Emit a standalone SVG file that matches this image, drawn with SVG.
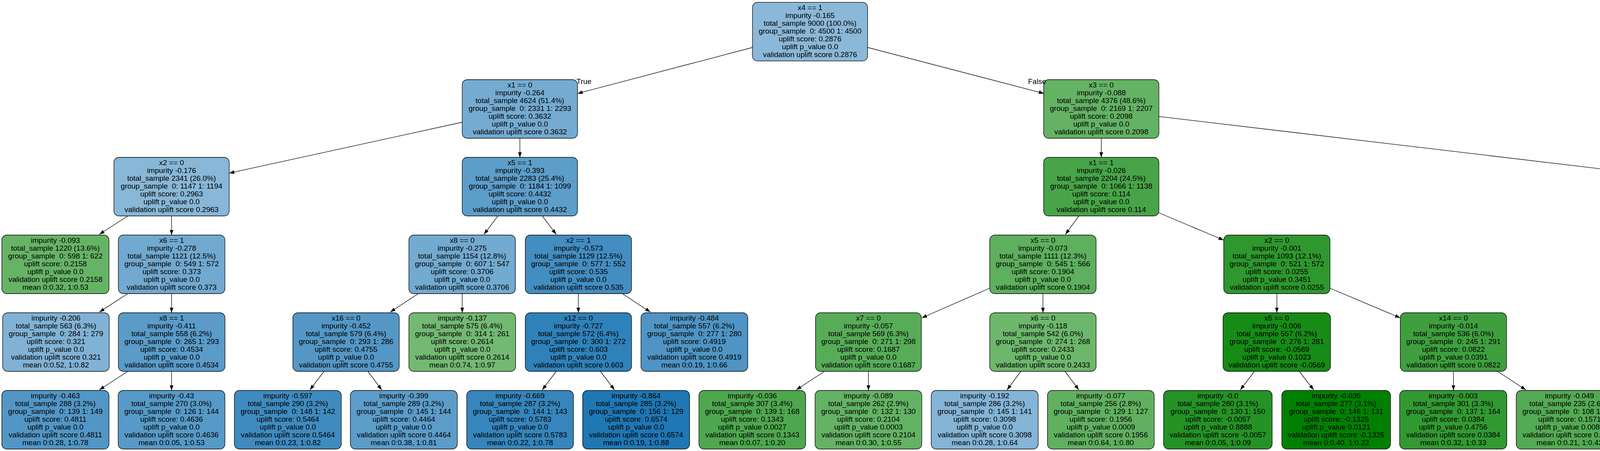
<svg xmlns="http://www.w3.org/2000/svg" width="5349" height="1155" viewBox="0 0 5349 1155">
<style>
.n rect{stroke:#000;stroke-width:1.3}
text{font-family:"Liberation Sans",Arial,Helvetica,sans-serif;font-size:19px;text-anchor:middle;white-space:pre;fill:#000}
.e{stroke:#000;stroke-width:1.3;fill:none;marker-end:url(#ah)}
</style>
<defs>
<marker id="ah" markerUnits="userSpaceOnUse" markerWidth="14" markerHeight="10" viewBox="0 0 14 10" refX="13.3" refY="4.7" orient="auto"><path d="M0,0 L13.3,4.7 L0,9.4 z" fill="#000"/></marker>
</defs>
<rect width="5349" height="1155" fill="#fff"/>
<g id="nodes">
<g id="n0" class="n"><rect x="1926.4" y="5.9" width="294.6" height="150.3" rx="13" fill="#8bb8d8"/><text x="2073.7" y="25.6"><tspan x="2073.7">x4 == 1</tspan><tspan x="2073.7" dy="20">impurity -0.165</tspan><tspan x="2073.7" dy="20">total_sample 9000 (100.0%)</tspan><tspan x="2073.7" dy="20">group_sample  0: 4500 1: 4500</tspan><tspan x="2073.7" dy="20">uplift score: 0.2876</tspan><tspan x="2073.7" dy="20">uplift p_value 0.0</tspan><tspan x="2073.7" dy="20">validation uplift score 0.2876</tspan></text></g>
<g id="n1" class="n"><rect x="1183.3" y="204" width="295.1" height="150" rx="13" fill="#75abd1"/><text x="1330.9" y="223.7"><tspan x="1330.9">x1 == 0</tspan><tspan x="1330.9" dy="20">impurity -0.264</tspan><tspan x="1330.9" dy="20">total_sample 4624 (51.4%)</tspan><tspan x="1330.9" dy="20">group_sample  0: 2331 1: 2293</tspan><tspan x="1330.9" dy="20">uplift score: 0.3632</tspan><tspan x="1330.9" dy="20">uplift p_value 0.0</tspan><tspan x="1330.9" dy="20">validation uplift score 0.3632</tspan></text></g>
<g id="n2" class="n"><rect x="2671.7" y="204" width="295.1" height="150" rx="13" fill="#64b264"/><text x="2819.3" y="223.7"><tspan x="2819.3">x3 == 0</tspan><tspan x="2819.3" dy="20">impurity -0.088</tspan><tspan x="2819.3" dy="20">total_sample 4376 (48.6%)</tspan><tspan x="2819.3" dy="20">group_sample  0: 2169 1: 2207</tspan><tspan x="2819.3" dy="20">uplift score: 0.2098</tspan><tspan x="2819.3" dy="20">uplift p_value 0.0</tspan><tspan x="2819.3" dy="20">validation uplift score 0.2098</tspan></text></g>
<g id="n3" class="n"><rect x="291.6" y="403" width="295.1" height="150" rx="13" fill="#88b7d7"/><text x="439.2" y="422.7"><tspan x="439.2">x2 == 0</tspan><tspan x="439.2" dy="20">impurity -0.176</tspan><tspan x="439.2" dy="20">total_sample 2341 (26.0%)</tspan><tspan x="439.2" dy="20">group_sample  0: 1147 1: 1194</tspan><tspan x="439.2" dy="20">uplift score: 0.2963</tspan><tspan x="439.2" dy="20">uplift p_value 0.0</tspan><tspan x="439.2" dy="20">validation uplift score 0.2963</tspan></text></g>
<g id="n4" class="n"><rect x="1183.3" y="403" width="295.1" height="150" rx="13" fill="#5d9dc9"/><text x="1330.9" y="422.7"><tspan x="1330.9">x5 == 1</tspan><tspan x="1330.9" dy="20">impurity -0.393</tspan><tspan x="1330.9" dy="20">total_sample 2283 (25.4%)</tspan><tspan x="1330.9" dy="20">group_sample  0: 1184 1: 1099</tspan><tspan x="1330.9" dy="20">uplift score: 0.4432</tspan><tspan x="1330.9" dy="20">uplift p_value 0.0</tspan><tspan x="1330.9" dy="20">validation uplift score 0.4432</tspan></text></g>
<g id="n5" class="n"><rect x="2671.7" y="403" width="295.1" height="150" rx="13" fill="#48a448"/><text x="2819.3" y="422.7"><tspan x="2819.3">x1 == 1</tspan><tspan x="2819.3" dy="20">impurity -0.026</tspan><tspan x="2819.3" dy="20">total_sample 2204 (24.5%)</tspan><tspan x="2819.3" dy="20">group_sample  0: 1066 1: 1138</tspan><tspan x="2819.3" dy="20">uplift score: 0.114</tspan><tspan x="2819.3" dy="20">uplift p_value 0.0</tspan><tspan x="2819.3" dy="20">validation uplift score 0.114</tspan></text></g>
<g id="n6" class="n"><rect x="4316" y="403" width="294.3" height="150" rx="13" fill="#85b5d6"/><text x="4463.2" y="422.7"><tspan x="4463.2">x2 == 1</tspan><tspan x="4463.2" dy="20">impurity -0.188</tspan><tspan x="4463.2" dy="20">total_sample 2172 (24.1%)</tspan><tspan x="4463.2" dy="20">group_sample  0: 1103 1: 1069</tspan><tspan x="4463.2" dy="20">uplift score: 0.3063</tspan><tspan x="4463.2" dy="20">uplift p_value 0.0</tspan><tspan x="4463.2" dy="20">validation uplift score 0.3063</tspan></text></g>
<g id="n7" class="n"><rect x="4.6" y="602" width="274.4" height="150" rx="13" fill="#66b366"/><text x="141.8" y="621.7"><tspan x="141.8">impurity -0.093</tspan><tspan x="141.8" dy="20">total_sample 1220 (13.6%)</tspan><tspan x="141.8" dy="20">group_sample  0: 598 1: 622</tspan><tspan x="141.8" dy="20">uplift score: 0.2158</tspan><tspan x="141.8" dy="20">uplift p_value 0.0</tspan><tspan x="141.8" dy="20">validation uplift score 0.2158</tspan><tspan x="141.8" dy="20">mean 0:0.32, 1:0.53</tspan></text></g>
<g id="n8" class="n"><rect x="303" y="602" width="272.8" height="150" rx="13" fill="#72a9d0"/><text x="439.4" y="621.7"><tspan x="439.4">x6 == 1</tspan><tspan x="439.4" dy="20">impurity -0.278</tspan><tspan x="439.4" dy="20">total_sample 1121 (12.5%)</tspan><tspan x="439.4" dy="20">group_sample  0: 549 1: 572</tspan><tspan x="439.4" dy="20">uplift score: 0.373</tspan><tspan x="439.4" dy="20">uplift p_value 0.0</tspan><tspan x="439.4" dy="20">validation uplift score 0.373</tspan></text></g>
<g id="n9" class="n"><rect x="1046.7" y="602" width="272.7" height="150" rx="13" fill="#72aad0"/><text x="1183.1" y="621.7"><tspan x="1183.1">x8 == 0</tspan><tspan x="1183.1" dy="20">impurity -0.275</tspan><tspan x="1183.1" dy="20">total_sample 1154 (12.8%)</tspan><tspan x="1183.1" dy="20">group_sample  0: 607 1: 547</tspan><tspan x="1183.1" dy="20">uplift score: 0.3706</tspan><tspan x="1183.1" dy="20">uplift p_value 0.0</tspan><tspan x="1183.1" dy="20">validation uplift score 0.3706</tspan></text></g>
<g id="n10" class="n"><rect x="1344.7" y="602" width="272.1" height="150" rx="13" fill="#438dc0"/><text x="1480.8" y="621.7"><tspan x="1480.8">x2 == 1</tspan><tspan x="1480.8" dy="20">impurity -0.573</tspan><tspan x="1480.8" dy="20">total_sample 1129 (12.5%)</tspan><tspan x="1480.8" dy="20">group_sample  0: 577 1: 552</tspan><tspan x="1480.8" dy="20">uplift score: 0.535</tspan><tspan x="1480.8" dy="20">uplift p_value 0.0</tspan><tspan x="1480.8" dy="20">validation uplift score 0.535</tspan></text></g>
<g id="n11" class="n"><rect x="2533.7" y="602" width="272.3" height="150" rx="13" fill="#5eaf5e"/><text x="2669.9" y="621.7"><tspan x="2669.9">x5 == 0</tspan><tspan x="2669.9" dy="20">impurity -0.073</tspan><tspan x="2669.9" dy="20">total_sample 1111 (12.3%)</tspan><tspan x="2669.9" dy="20">group_sample  0: 545 1: 566</tspan><tspan x="2669.9" dy="20">uplift score: 0.1904</tspan><tspan x="2669.9" dy="20">uplift p_value 0.0</tspan><tspan x="2669.9" dy="20">validation uplift score 0.1904</tspan></text></g>
<g id="n12" class="n"><rect x="3132.7" y="602" width="272.1" height="150" rx="13" fill="#2e972e"/><text x="3268.8" y="621.7"><tspan x="3268.8">x2 == 0</tspan><tspan x="3268.8" dy="20">impurity -0.001</tspan><tspan x="3268.8" dy="20">total_sample 1093 (12.1%)</tspan><tspan x="3268.8" dy="20">group_sample  0: 521 1: 572</tspan><tspan x="3268.8" dy="20">uplift score: 0.0255</tspan><tspan x="3268.8" dy="20">uplift p_value 0.3451</tspan><tspan x="3268.8" dy="20">validation uplift score 0.0255</tspan></text></g>
<g id="n13" class="n"><rect x="4327.5" y="602" width="271.9" height="150" rx="13" fill="#6ba5ce"/><text x="4463.5" y="621.7"><tspan x="4463.5">x11 == 0</tspan><tspan x="4463.5" dy="20">impurity -0.312</tspan><tspan x="4463.5" dy="20">total_sample 1094 (12.2%)</tspan><tspan x="4463.5" dy="20">group_sample  0: 549 1: 545</tspan><tspan x="4463.5" dy="20">uplift score: 0.3953</tspan><tspan x="4463.5" dy="20">uplift p_value 0.0</tspan><tspan x="4463.5" dy="20">validation uplift score 0.3953</tspan></text></g>
<g id="n14" class="n"><rect x="4623.5" y="602" width="273.8" height="150" rx="13" fill="#6ab56a"/><text x="4760.4" y="621.7"><tspan x="4760.4">impurity -0.106</tspan><tspan x="4760.4" dy="20">total_sample 1078 (12.0%)</tspan><tspan x="4760.4" dy="20">group_sample  0: 554 1: 524</tspan><tspan x="4760.4" dy="20">uplift score: 0.2298</tspan><tspan x="4760.4" dy="20">uplift p_value 0.0</tspan><tspan x="4760.4" dy="20">validation uplift score 0.2298</tspan><tspan x="4760.4" dy="20">mean 0:0.32, 1:0.54</tspan></text></g>
<g id="n15" class="n"><rect x="6.9" y="801" width="272.7" height="150" rx="13" fill="#81b2d5"/><text x="143.3" y="820.7"><tspan x="143.3">impurity -0.206</tspan><tspan x="143.3" dy="20">total_sample 563 (6.3%)</tspan><tspan x="143.3" dy="20">group_sample  0: 284 1: 279</tspan><tspan x="143.3" dy="20">uplift score: 0.321</tspan><tspan x="143.3" dy="20">uplift p_value 0.0</tspan><tspan x="143.3" dy="20">validation uplift score 0.321</tspan><tspan x="143.3" dy="20">mean 0:0.52, 1:0.82</tspan></text></g>
<g id="n16" class="n"><rect x="303" y="801" width="273" height="150" rx="13" fill="#5a9bc8"/><text x="439.5" y="820.7"><tspan x="439.5">x8 == 1</tspan><tspan x="439.5" dy="20">impurity -0.411</tspan><tspan x="439.5" dy="20">total_sample 558 (6.2%)</tspan><tspan x="439.5" dy="20">group_sample  0: 265 1: 293</tspan><tspan x="439.5" dy="20">uplift score: 0.4534</tspan><tspan x="439.5" dy="20">uplift p_value 0.0</tspan><tspan x="439.5" dy="20">validation uplift score 0.4534</tspan></text></g>
<g id="n17" class="n"><rect x="749.7" y="801" width="272.3" height="150" rx="13" fill="#5497c6"/><text x="885.9" y="820.7"><tspan x="885.9">x16 == 0</tspan><tspan x="885.9" dy="20">impurity -0.452</tspan><tspan x="885.9" dy="20">total_sample 579 (6.4%)</tspan><tspan x="885.9" dy="20">group_sample  0: 293 1: 286</tspan><tspan x="885.9" dy="20">uplift score: 0.4755</tspan><tspan x="885.9" dy="20">uplift p_value 0.0</tspan><tspan x="885.9" dy="20">validation uplift score 0.4755</tspan></text></g>
<g id="n18" class="n"><rect x="1046.7" y="801" width="273.3" height="150" rx="13" fill="#73b973"/><text x="1183.4" y="820.7"><tspan x="1183.4">impurity -0.137</tspan><tspan x="1183.4" dy="20">total_sample 575 (6.4%)</tspan><tspan x="1183.4" dy="20">group_sample  0: 314 1: 261</tspan><tspan x="1183.4" dy="20">uplift score: 0.2614</tspan><tspan x="1183.4" dy="20">uplift p_value 0.0</tspan><tspan x="1183.4" dy="20">validation uplift score 0.2614</tspan><tspan x="1183.4" dy="20">mean 0:0.74, 1:0.97</tspan></text></g>
<g id="n19" class="n"><rect x="1344.7" y="801" width="272.1" height="150" rx="13" fill="#2f81b9"/><text x="1480.8" y="820.7"><tspan x="1480.8">x12 == 0</tspan><tspan x="1480.8" dy="20">impurity -0.727</tspan><tspan x="1480.8" dy="20">total_sample 572 (6.4%)</tspan><tspan x="1480.8" dy="20">group_sample  0: 300 1: 272</tspan><tspan x="1480.8" dy="20">uplift score: 0.603</tspan><tspan x="1480.8" dy="20">uplift p_value 0.0</tspan><tspan x="1480.8" dy="20">validation uplift score 0.603</tspan></text></g>
<g id="n20" class="n"><rect x="1640.9" y="801" width="273.4" height="150" rx="13" fill="#4f94c4"/><text x="1777.6" y="820.7"><tspan x="1777.6">impurity -0.484</tspan><tspan x="1777.6" dy="20">total_sample 557 (6.2%)</tspan><tspan x="1777.6" dy="20">group_sample  0: 277 1: 280</tspan><tspan x="1777.6" dy="20">uplift score: 0.4919</tspan><tspan x="1777.6" dy="20">uplift p_value 0.0</tspan><tspan x="1777.6" dy="20">validation uplift score 0.4919</tspan><tspan x="1777.6" dy="20">mean 0:0.19, 1:0.66</tspan></text></g>
<g id="n21" class="n"><rect x="2087.7" y="801" width="271" height="150" rx="13" fill="#58ac58"/><text x="2223.2" y="820.7"><tspan x="2223.2">x7 == 0</tspan><tspan x="2223.2" dy="20">impurity -0.057</tspan><tspan x="2223.2" dy="20">total_sample 569 (6.3%)</tspan><tspan x="2223.2" dy="20">group_sample  0: 271 1: 298</tspan><tspan x="2223.2" dy="20">uplift score: 0.1687</tspan><tspan x="2223.2" dy="20">uplift p_value 0.0</tspan><tspan x="2223.2" dy="20">validation uplift score 0.1687</tspan></text></g>
<g id="n22" class="n"><rect x="2533.7" y="801" width="272.3" height="150" rx="13" fill="#6db76d"/><text x="2669.9" y="820.7"><tspan x="2669.9">x6 == 0</tspan><tspan x="2669.9" dy="20">impurity -0.118</tspan><tspan x="2669.9" dy="20">total_sample 542 (6.0%)</tspan><tspan x="2669.9" dy="20">group_sample  0: 274 1: 268</tspan><tspan x="2669.9" dy="20">uplift score: 0.2433</tspan><tspan x="2669.9" dy="20">uplift p_value 0.0</tspan><tspan x="2669.9" dy="20">validation uplift score 0.2433</tspan></text></g>
<g id="n23" class="n"><rect x="3131" y="801" width="275" height="150" rx="13" fill="#168b16"/><text x="3268.5" y="820.7"><tspan x="3268.5">x5 == 0</tspan><tspan x="3268.5" dy="20">impurity -0.006</tspan><tspan x="3268.5" dy="20">total_sample 557 (6.2%)</tspan><tspan x="3268.5" dy="20">group_sample  0: 276 1: 281</tspan><tspan x="3268.5" dy="20">uplift score: -0.0569</tspan><tspan x="3268.5" dy="20">uplift p_value 0.1023</tspan><tspan x="3268.5" dy="20">validation uplift score -0.0569</tspan></text></g>
<g id="n24" class="n"><rect x="3584.7" y="801" width="272.1" height="150" rx="13" fill="#3f9f3f"/><text x="3720.8" y="820.7"><tspan x="3720.8">x14 == 0</tspan><tspan x="3720.8" dy="20">impurity -0.014</tspan><tspan x="3720.8" dy="20">total_sample 536 (6.0%)</tspan><tspan x="3720.8" dy="20">group_sample  0: 245 1: 291</tspan><tspan x="3720.8" dy="20">uplift score: 0.0822</tspan><tspan x="3720.8" dy="20">uplift p_value 0.0391</tspan><tspan x="3720.8" dy="20">validation uplift score 0.0822</tspan></text></g>
<g id="n25" class="n"><rect x="4327.5" y="801" width="271.9" height="150" rx="13" fill="#70a8cf"/><text x="4463.5" y="820.7"><tspan x="4463.5">x1 == 0</tspan><tspan x="4463.5" dy="20">impurity -0.288</tspan><tspan x="4463.5" dy="20">total_sample 563 (6.3%)</tspan><tspan x="4463.5" dy="20">group_sample  0: 292 1: 271</tspan><tspan x="4463.5" dy="20">uplift score: 0.3796</tspan><tspan x="4463.5" dy="20">uplift p_value 0.0</tspan><tspan x="4463.5" dy="20">validation uplift score 0.3796</tspan></text></g>
<g id="n26" class="n"><rect x="4773.9" y="801" width="272.1" height="150" rx="13" fill="#5f9eca"/><text x="4910" y="820.7"><tspan x="4910">x8 == 0</tspan><tspan x="4910" dy="20">impurity -0.381</tspan><tspan x="4910" dy="20">total_sample 531 (5.9%)</tspan><tspan x="4910" dy="20">group_sample  0: 257 1: 274</tspan><tspan x="4910" dy="20">uplift score: 0.4363</tspan><tspan x="4910" dy="20">uplift p_value 0.0</tspan><tspan x="4910" dy="20">validation uplift score 0.4363</tspan></text></g>
<g id="n27" class="n"><rect x="4.6" y="1000" width="274.4" height="150" rx="13" fill="#5296c5"/><text x="141.8" y="1019.7"><tspan x="141.8">impurity -0.463</tspan><tspan x="141.8" dy="20">total_sample 288 (3.2%)</tspan><tspan x="141.8" dy="20">group_sample  0: 139 1: 149</tspan><tspan x="141.8" dy="20">uplift score: 0.4811</tspan><tspan x="141.8" dy="20">uplift p_value 0.0</tspan><tspan x="141.8" dy="20">validation uplift score 0.4811</tspan><tspan x="141.8" dy="20">mean 0:0.28, 1:0.78</tspan></text></g>
<g id="n28" class="n"><rect x="302.5" y="1000" width="273.3" height="150" rx="13" fill="#5799c7"/><text x="439.2" y="1019.7"><tspan x="439.2">impurity -0.43</tspan><tspan x="439.2" dy="20">total_sample 270 (3.0%)</tspan><tspan x="439.2" dy="20">group_sample  0: 126 1: 144</tspan><tspan x="439.2" dy="20">uplift score: 0.4636</tspan><tspan x="439.2" dy="20">uplift p_value 0.0</tspan><tspan x="439.2" dy="20">validation uplift score 0.4636</tspan><tspan x="439.2" dy="20">mean 0:0.05, 1:0.53</tspan></text></g>
<g id="n29" class="n"><rect x="600" y="1000" width="273.7" height="150" rx="13" fill="#3f8bbf"/><text x="736.9" y="1019.7"><tspan x="736.9">impurity -0.597</tspan><tspan x="736.9" dy="20">total_sample 290 (3.2%)</tspan><tspan x="736.9" dy="20">group_sample  0: 148 1: 142</tspan><tspan x="736.9" dy="20">uplift score: 0.5464</tspan><tspan x="736.9" dy="20">uplift p_value 0.0</tspan><tspan x="736.9" dy="20">validation uplift score 0.5464</tspan><tspan x="736.9" dy="20">mean 0:0.23, 1:0.82</tspan></text></g>
<g id="n30" class="n"><rect x="896.9" y="1000" width="273.8" height="150" rx="13" fill="#5c9cc9"/><text x="1033.8" y="1019.7"><tspan x="1033.8">impurity -0.399</tspan><tspan x="1033.8" dy="20">total_sample 289 (3.2%)</tspan><tspan x="1033.8" dy="20">group_sample  0: 145 1: 144</tspan><tspan x="1033.8" dy="20">uplift score: 0.4464</tspan><tspan x="1033.8" dy="20">uplift p_value 0.0</tspan><tspan x="1033.8" dy="20">validation uplift score 0.4464</tspan><tspan x="1033.8" dy="20">mean 0:0.38, 1:0.81</tspan></text></g>
<g id="n31" class="n"><rect x="1194.8" y="1000" width="273.2" height="150" rx="13" fill="#3685bc"/><text x="1331.4" y="1019.7"><tspan x="1331.4">impurity -0.669</tspan><tspan x="1331.4" dy="20">total_sample 287 (3.2%)</tspan><tspan x="1331.4" dy="20">group_sample  0: 144 1: 143</tspan><tspan x="1331.4" dy="20">uplift score: 0.5783</tspan><tspan x="1331.4" dy="20">uplift p_value 0.0</tspan><tspan x="1331.4" dy="20">validation uplift score 0.5783</tspan><tspan x="1331.4" dy="20">mean 0:0.22, 1:0.78</tspan></text></g>
<g id="n32" class="n"><rect x="1491.6" y="1000" width="273.8" height="150" rx="13" fill="#1f77b4"/><text x="1628.5" y="1019.7"><tspan x="1628.5">impurity -0.864</tspan><tspan x="1628.5" dy="20">total_sample 285 (3.2%)</tspan><tspan x="1628.5" dy="20">group_sample  0: 156 1: 129</tspan><tspan x="1628.5" dy="20">uplift score: 0.6574</tspan><tspan x="1628.5" dy="20">uplift p_value 0.0</tspan><tspan x="1628.5" dy="20">validation uplift score 0.6574</tspan><tspan x="1628.5" dy="20">mean 0:0.19, 1:0.88</tspan></text></g>
<g id="n33" class="n"><rect x="1789.2" y="1000" width="273.2" height="150" rx="13" fill="#4ea74e"/><text x="1925.8" y="1019.7"><tspan x="1925.8">impurity -0.036</tspan><tspan x="1925.8" dy="20">total_sample 307 (3.4%)</tspan><tspan x="1925.8" dy="20">group_sample  0: 139 1: 168</tspan><tspan x="1925.8" dy="20">uplift score: 0.1343</tspan><tspan x="1925.8" dy="20">uplift p_value 0.0027</tspan><tspan x="1925.8" dy="20">validation uplift score 0.1343</tspan><tspan x="1925.8" dy="20">mean 0:0.07, 1:0.20</tspan></text></g>
<g id="n34" class="n"><rect x="2086.5" y="1000" width="273.3" height="150" rx="13" fill="#64b264"/><text x="2223.2" y="1019.7"><tspan x="2223.2">impurity -0.089</tspan><tspan x="2223.2" dy="20">total_sample 262 (2.9%)</tspan><tspan x="2223.2" dy="20">group_sample  0: 132 1: 130</tspan><tspan x="2223.2" dy="20">uplift score: 0.2104</tspan><tspan x="2223.2" dy="20">uplift p_value 0.0003</tspan><tspan x="2223.2" dy="20">validation uplift score 0.2104</tspan><tspan x="2223.2" dy="20">mean 0:0.30, 1:0.55</tspan></text></g>
<g id="n35" class="n"><rect x="2383.9" y="1000" width="273.8" height="150" rx="13" fill="#84b4d6"/><text x="2520.8" y="1019.7"><tspan x="2520.8">impurity -0.192</tspan><tspan x="2520.8" dy="20">total_sample 286 (3.2%)</tspan><tspan x="2520.8" dy="20">group_sample  0: 145 1: 141</tspan><tspan x="2520.8" dy="20">uplift score: 0.3098</tspan><tspan x="2520.8" dy="20">uplift p_value 0.0</tspan><tspan x="2520.8" dy="20">validation uplift score 0.3098</tspan><tspan x="2520.8" dy="20">mean 0:0.28, 1:0.64</tspan></text></g>
<g id="n36" class="n"><rect x="2681.5" y="1000" width="273.2" height="150" rx="13" fill="#60b060"/><text x="2818.1" y="1019.7"><tspan x="2818.1">impurity -0.077</tspan><tspan x="2818.1" dy="20">total_sample 256 (2.8%)</tspan><tspan x="2818.1" dy="20">group_sample  0: 129 1: 127</tspan><tspan x="2818.1" dy="20">uplift score: 0.1956</tspan><tspan x="2818.1" dy="20">uplift p_value 0.0009</tspan><tspan x="2818.1" dy="20">validation uplift score 0.1956</tspan><tspan x="2818.1" dy="20">mean 0:0.64, 1:0.80</tspan></text></g>
<g id="n37" class="n"><rect x="2978.8" y="1000" width="277.9" height="150" rx="13" fill="#259225"/><text x="3117.8" y="1019.7"><tspan x="3117.8">impurity -0.0</tspan><tspan x="3117.8" dy="20">total_sample 280 (3.1%)</tspan><tspan x="3117.8" dy="20">group_sample  0: 130 1: 150</tspan><tspan x="3117.8" dy="20">uplift score: -0.0057</tspan><tspan x="3117.8" dy="20">uplift p_value 0.8888</tspan><tspan x="3117.8" dy="20">validation uplift score -0.0057</tspan><tspan x="3117.8" dy="20">mean 0:0.05, 1:0.09</tspan></text></g>
<g id="n38" class="n"><rect x="3281.4" y="1000" width="278.4" height="150" rx="13" fill="#008000"/><text x="3420.6" y="1019.7"><tspan x="3420.6">impurity -0.035</tspan><tspan x="3420.6" dy="20">total_sample 277 (3.1%)</tspan><tspan x="3420.6" dy="20">group_sample  0: 146 1: 131</tspan><tspan x="3420.6" dy="20">uplift score: -0.1325</tspan><tspan x="3420.6" dy="20">uplift p_value 0.0121</tspan><tspan x="3420.6" dy="20">validation uplift score -0.1325</tspan><tspan x="3420.6" dy="20">mean 0:0.40, 1:0.22</tspan></text></g>
<g id="n39" class="n"><rect x="3583" y="1000" width="274.4" height="150" rx="13" fill="#329932"/><text x="3720.2" y="1019.7"><tspan x="3720.2">impurity -0.003</tspan><tspan x="3720.2" dy="20">total_sample 301 (3.3%)</tspan><tspan x="3720.2" dy="20">group_sample  0: 137 1: 164</tspan><tspan x="3720.2" dy="20">uplift score: 0.0384</tspan><tspan x="3720.2" dy="20">uplift p_value 0.4756</tspan><tspan x="3720.2" dy="20">validation uplift score 0.0384</tspan><tspan x="3720.2" dy="20">mean 0:0.32, 1:0.33</tspan></text></g>
<g id="n40" class="n"><rect x="3881.5" y="1000" width="273.2" height="150" rx="13" fill="#54aa54"/><text x="4018.1" y="1019.7"><tspan x="4018.1">impurity -0.049</tspan><tspan x="4018.1" dy="20">total_sample 235 (2.6%)</tspan><tspan x="4018.1" dy="20">group_sample  0: 108 1: 127</tspan><tspan x="4018.1" dy="20">uplift score: 0.1571</tspan><tspan x="4018.1" dy="20">uplift p_value 0.0086</tspan><tspan x="4018.1" dy="20">validation uplift score 0.1571</tspan><tspan x="4018.1" dy="20">mean 0:0.21, 1:0.43</tspan></text></g>
<g id="n41" class="n"><rect x="4178.8" y="1000" width="273.9" height="150" rx="13" fill="#80b2d4"/><text x="4315.8" y="1019.7"><tspan x="4315.8">impurity -0.211</tspan><tspan x="4315.8" dy="20">total_sample 289 (3.2%)</tspan><tspan x="4315.8" dy="20">group_sample  0: 144 1: 145</tspan><tspan x="4315.8" dy="20">uplift score: 0.3249</tspan><tspan x="4315.8" dy="20">uplift p_value 0.0</tspan><tspan x="4315.8" dy="20">validation uplift score 0.3249</tspan><tspan x="4315.8" dy="20">mean 0:0.35, 1:0.64</tspan></text></g>
<g id="n42" class="n"><rect x="4476" y="1000" width="273.2" height="150" rx="13" fill="#609fca"/><text x="4612.6" y="1019.7"><tspan x="4612.6">impurity -0.373</tspan><tspan x="4612.6" dy="20">total_sample 274 (3.0%)</tspan><tspan x="4612.6" dy="20">group_sample  0: 148 1: 126</tspan><tspan x="4612.6" dy="20">uplift score: 0.4321</tspan><tspan x="4612.6" dy="20">uplift p_value 0.0</tspan><tspan x="4612.6" dy="20">validation uplift score 0.4321</tspan><tspan x="4612.6" dy="20">mean 0:0.35, 1:0.83</tspan></text></g>
<g id="n43" class="n"><rect x="4773.9" y="1000" width="272.1" height="150" rx="13" fill="#4d93c3"/><text x="4910" y="1019.7"><tspan x="4910">impurity -0.502</tspan><tspan x="4910" dy="20">total_sample 278 (3.1%)</tspan><tspan x="4910" dy="20">group_sample  0: 138 1: 140</tspan><tspan x="4910" dy="20">uplift score: 0.501</tspan><tspan x="4910" dy="20">uplift p_value 0.0</tspan><tspan x="4910" dy="20">validation uplift score 0.501</tspan><tspan x="4910" dy="20">mean 0:0.12, 1:0.66</tspan></text></g>
<g id="n44" class="n"><rect x="5070.7" y="1000" width="273.8" height="150" rx="13" fill="#6fa8cf"/><text x="5207.6" y="1019.7"><tspan x="5207.6">impurity -0.29</tspan><tspan x="5207.6" dy="20">total_sample 253 (2.8%)</tspan><tspan x="5207.6" dy="20">group_sample  0: 119 1: 134</tspan><tspan x="5207.6" dy="20">uplift score: 0.3811</tspan><tspan x="5207.6" dy="20">uplift p_value 0.0</tspan><tspan x="5207.6" dy="20">validation uplift score 0.3811</tspan><tspan x="5207.6" dy="20">mean 0:0.53, 1:0.86</tspan></text></g>
</g>
<g id="edges">
<path class="e" d="M1926.4,121.5 L1478.4,239.4"/>
<path class="e" d="M2221,121.5 L2672.7,239.4"/>
<path class="e" d="M1183.3,313 L586.7,443.4"/>
<path class="e" d="M1330.9,354 L1330.9,403"/>
<path class="e" d="M2819.3,354 L2819.3,403"/>
<path class="e" d="M2966.8,298.3 L4316,458.2"/>
<path class="e" d="M327.2,553 L254.3,600.3"/>
<path class="e" d="M439.2,553 L439.2,602"/>
<path class="e" d="M1274.6,553 L1239,600.3"/>
<path class="e" d="M1388.3,553 L1423.9,600.3"/>
<path class="e" d="M2761.8,553 L2727.4,600.3"/>
<path class="e" d="M2966.8,545 L3132.7,615"/>
<path class="e" d="M4463.4,553 L4463.4,602"/>
<path class="e" d="M4576.4,553 L4648.2,600.3"/>
<path class="e" d="M327.2,752 L254.3,799.2"/>
<path class="e" d="M439.2,752 L439.2,801"/>
<path class="e" d="M1070.8,752 L999,799.2"/>
<path class="e" d="M1183.3,752 L1183.3,801"/>
<path class="e" d="M1480.5,752 L1480.5,801"/>
<path class="e" d="M1593.2,752 L1665,799.2"/>
<path class="e" d="M2533.7,738 L2359.8,814"/>
<path class="e" d="M2669.9,752 L2669.9,801"/>
<path class="e" d="M3268.7,752 L3268.7,801"/>
<path class="e" d="M3404.8,738 L3584.7,814"/>
<path class="e" d="M4463.4,752 L4463.4,801"/>
<path class="e" d="M4599.4,746 L4773.3,820"/>
<path class="e" d="M327.2,951 L254.3,998.5"/>
<path class="e" d="M439.2,951 L439.2,1000"/>
<path class="e" d="M829.5,951 L793.3,998.5"/>
<path class="e" d="M941.7,951 L977.3,998.5"/>
<path class="e" d="M1423.9,951 L1388.3,998.5"/>
<path class="e" d="M1537,951 L1573,998.5"/>
<path class="e" d="M2110.7,951 L2038.3,998.5"/>
<path class="e" d="M2223.2,951 L2223.2,1000"/>
<path class="e" d="M2613.5,951 L2577.9,998.5"/>
<path class="e" d="M2726.3,951 L2761.8,998.5"/>
<path class="e" d="M3211.3,951 L3175.2,998.5"/>
<path class="e" d="M3326.1,951 L3362.9,998.5"/>
<path class="e" d="M3720.8,951 L3720.8,1000"/>
<path class="e" d="M3833.8,951 L3906.2,998.5"/>
<path class="e" d="M4407.9,951 L4372.3,998.5"/>
<path class="e" d="M4519.6,951 L4556.3,998.5"/>
<path class="e" d="M4910,951 L4910,1000"/>
<path class="e" d="M5023,951 L5094.8,998.5"/>
<text x="1495" y="215">True</text>
<text x="2655" y="215">False</text>
</g>
</svg>
